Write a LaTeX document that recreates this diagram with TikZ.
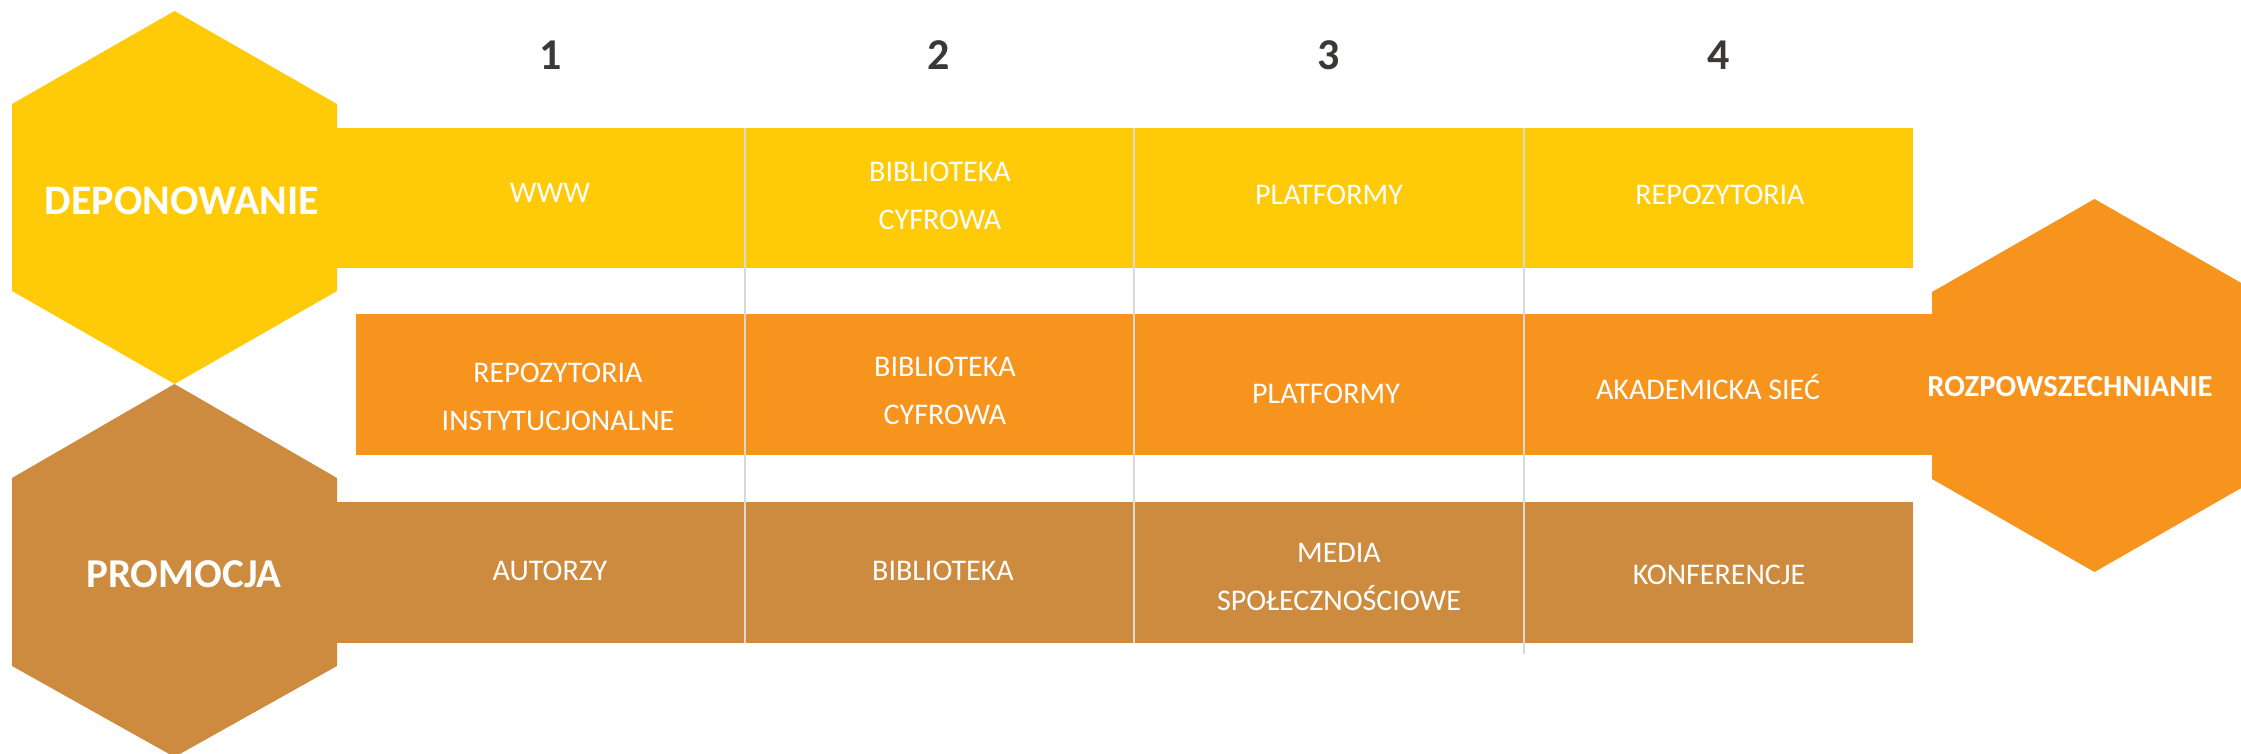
\documentclass[tikz,border=0pt]{standalone}
\usepackage{fontspec}
\setmainfont{Carlito}
\definecolor{cyellow}{RGB}{255,203,8}
\definecolor{corange}{RGB}{247,148,30}
\definecolor{cbrown}{RGB}{205,139,64}
\definecolor{cnum}{RGB}{59,56,56}
\definecolor{cline}{RGB}{217,217,217}
\begin{document}
\begin{tikzpicture}[x=0.5pt,y=-0.5pt,
  celltext/.style={text=white, font=\fontsize{15}{24}\selectfont, align=center, anchor=base, inner sep=0pt},
  hextext/.style={text=white, font=\bfseries\fontsize{21}{25}\selectfont, anchor=base, inner sep=0pt},
  numtext/.style={text=cnum, font=\bfseries\fontsize{22}{26}\selectfont, anchor=base, inner sep=0pt},
  sepline/.style={draw=cline, line width=1pt}]
\useasboundingbox (0,0) rectangle (2241,754);
\fill[white] (0,0) rectangle (2241,754);
% bands
\fill[cyellow] (300,128) rectangle (1913,268);
\fill[corange] (356,314) rectangle (1960,455);
\fill[cbrown] (300,502) rectangle (1913,643);
% hexagons
\fill[cyellow] (12,104) -- (174.5,11) -- (337,104) -- (337,291) -- (174.5,384) -- (12,291) -- cycle;
\fill[cbrown] (12,478) -- (174.5,384) -- (337,478) -- (337,666) -- (174.5,757) -- (12,666) -- cycle;
\fill[corange] (1932,292) -- (2094.5,199) -- (2257,292) -- (2257,479) -- (2094.5,572) -- (1932,479) -- cycle;
% separators
\coordinate (s1t) at (745,128);  \coordinate (s1b) at (745,643);
\coordinate (s2t) at (1134,128); \coordinate (s2b) at (1134,643);
\coordinate (s3t) at (1524,128); \coordinate (s3b) at (1524,654);
\draw[sepline] (s1t) -- (s1b);
\draw[sepline] (s2t) -- (s2b);
\draw[sepline] (s3t) -- (s3b);
% numbers
\node[numtext] (n1) at (551,70) {1};
\node[numtext] (n2) at (939,70) {2};
\node[numtext] (n3) at (1329,70) {3};
\node[numtext] (n4) at (1719,70) {4};
% hexagon labels
\node[hextext] (dep) at (182,215) {DEPONOWANIE};
\node[hextext, font=\bfseries\fontsize{20.5}{25}\selectfont] (prom) at (184,587) {PROMOCJA};
\node[hextext, font=\bfseries\fontsize{15.3}{20}\selectfont] (rozp) at (2070,396) {ROZPOWSZECHNIANIE};
% yellow row
\node[celltext] (y1) at (550,203) {WWW};
\node[celltext] (y2) at (940,229) {BIBLIOTEKA\\CYFROWA};
\node[celltext] (y3) at (1329,205) {PLATFORMY};
\node[celltext] (y4) at (1720,205) {REPOZYTORIA};
% orange row
\node[celltext] (o1) at (558,430) {REPOZYTORIA\\INSTYTUCJONALNE};
\node[celltext] (o2) at (945,424) {BIBLIOTEKA\\CYFROWA};
\node[celltext] (o3) at (1326,403) {PLATFORMY};
\node[celltext] (o4) at (1708,399) {AKADEMICKA SIEĆ};
% brown row
\node[celltext] (b1) at (550,580) {AUTORZY};
\node[celltext] (b2) at (943,580) {BIBLIOTEKA};
\node[celltext] (b3) at (1339,610) {MEDIA\\SPOŁECZNOŚCIOWE};
\node[celltext] (b4) at (1719,584) {KONFERENCJE};
\end{tikzpicture}
\end{document}
